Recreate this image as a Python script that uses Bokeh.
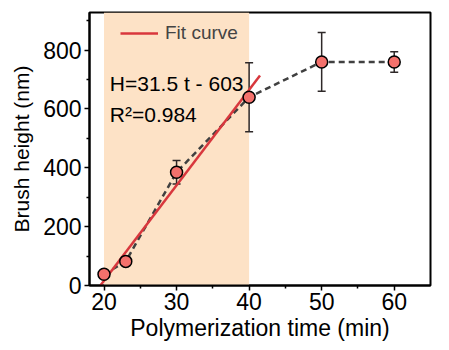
from bokeh.plotting import figure
from bokeh.models import ColumnDataSource, Whisker, BoxAnnotation, Range1d, Legend, LegendItem, FixedTicker, TeeHead
from bokeh.embed import file_html
from bokeh.resources import INLINE
from bokeh.core.properties import value

# data
time_min = [20, 23, 30, 40, 50, 60]
height_nm = [38, 82, 385, 640, 760, 760]
err_nm = [10, 8, 40, 117, 100, 35]
fit_t = [19.5, 41.5]
fit_h = [0, 714]
x_ticks = [20, 30, 40, 50, 60]
y_ticks = [0, 200, 400, 600, 800]

FONT = "Liberation Sans"

p = figure(width=449, height=350, output_backend="svg", toolbar_location=None,
           x_range=Range1d(18, 65), y_range=Range1d(0, 928),
           min_border_left=89, min_border_right=19, min_border_top=12, min_border_bottom=65)
p.background_fill_color = "white"
p.border_fill_color = "white"
p.grid.visible = False
p.outline_line_color = "black"
p.outline_line_width = 2

p.add_layout(BoxAnnotation(left=20, right=40, fill_color="#FDE2C6", fill_alpha=1.0, line_alpha=0, level="underlay"))

src = ColumnDataSource(dict(t=time_min, h=height_nm,
                            lo=[h - e for h, e in zip(height_nm, err_nm)],
                            hi=[h + e for h, e in zip(height_nm, err_nm)]))

p.line("t", "h", source=src, line_color="#404040", line_width=2.5, line_dash="6 4")
fit = p.line(fit_t, fit_h, line_color="#D8373D", line_width=2.5)

w = Whisker(base="t", lower="lo", upper="hi", source=src, line_color="#2e2828", line_width=1.5,
            upper_head=TeeHead(size=8, line_color="#2e2828", line_width=1.5),
            lower_head=TeeHead(size=8, line_color="#2e2828", line_width=1.5))
p.add_layout(w)

p.scatter("t", "h", source=src, size=12, fill_color="#F4716C", line_color="black", line_width=1.5)

p.text(x=[20.8], y=[688], text=["H=31.5 t - 603"], text_font=value(FONT), text_font_size="21px",
       text_baseline="middle", text_align="left", text_color="black")
p.text(x=[20.8], y=[580], text=["R\u00b2=0.984"], text_font=value(FONT), text_font_size="21px",
       text_baseline="middle", text_align="left", text_color="black")

legend = Legend(items=[LegendItem(label="Fit curve", renderers=[fit])], location=(31, 241),
                background_fill_alpha=0, border_line_alpha=0, glyph_width=38, glyph_height=20,
                label_text_font=FONT, label_text_font_size="19px", margin=0, padding=0,
                label_standoff=7)
p.add_layout(legend)

for ax in (p.xaxis, p.yaxis):
    ax.axis_line_color = "black"
    ax.axis_line_width = 2
    ax.major_tick_line_width = 1.5
    ax.minor_tick_line_width = 1.5
    ax.major_tick_out = 5
    ax.major_tick_in = 0
    ax.minor_tick_out = 3
    ax.minor_tick_in = 0
    ax.major_label_text_font = FONT
    ax.major_label_text_font_size = "23px"
    ax.major_label_text_color = "black"
    ax.axis_label_text_font = FONT
    ax.axis_label_text_font_style = "normal"
    ax.axis_label_text_color = "black"

p.xaxis.axis_label_text_font_size = "23px"
p.yaxis.axis_label_text_font_size = "21px"
p.xaxis.ticker = FixedTicker(ticks=x_ticks, minor_ticks=[25, 35, 45, 55])
p.yaxis.ticker = FixedTicker(ticks=y_ticks, minor_ticks=[100, 300, 500, 700, 900])
p.xaxis.axis_label = "Polymerization time (min)"
p.yaxis.axis_label = "Brush height (nm)"
p.xaxis.major_label_standoff = 2
p.yaxis.major_label_standoff = 3
p.xaxis.axis_label_standoff = 2
p.yaxis.axis_label_standoff = 7

open("out.html", "w").write(file_html(p, INLINE))
